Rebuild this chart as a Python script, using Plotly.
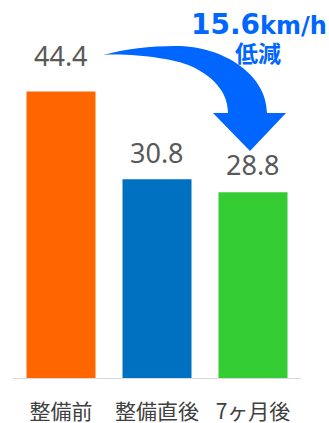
import plotly.graph_objects as go

# ---- data ----
categories = ["整備前", "整備直後", "7ヶ月後"]
speeds = [44.4, 30.8, 28.8]
bar_colors = ["#FF6600", "#0070C0", "#33CC33"]
reduction_value = "15.6"
reduction_unit = "km/h"
reduction_word = "低減"

# ---- layout geometry ----
W, H = 329, 423
ML, MR, MT, MB = 13, 28, 0, 45
PW, PH = W - ML - MR, H - MT - MB
YMAX = 58.6
label_shift = [36, 27, 28]  # px above bar top for value labels

def px(x, y):
    """pixel position -> paper coords"""
    return (x - ML) / PW, (H - MB - y) / PH

fig = go.Figure()
fig.add_trace(go.Bar(
    x=list(range(len(categories))), y=speeds,
    marker=dict(color=bar_colors, line=dict(width=0)),
    hoverinfo="skip",
))

for i, v in enumerate(speeds):
    fig.add_annotation(x=i, y=v, xref="x", yref="y", text=f"{v:.1f}",
                       showarrow=False, yanchor="middle", yshift=label_shift[i],
                       font=dict(family="Noto Sans", size=27, color="#595959"))

# curved arrow (decoration) in pixel space
segs = [
    ("M", [(103, 55)]),
    ("C", [(125, 49), (150, 46), (175, 46)]),
    ("C", [(225.8, 46), (267, 76), (267, 113)]),
    ("L", [(286, 113)]),
    ("L", [(250, 151)]),
    ("L", [(213, 113)]),
    ("L", [(228, 113)]),
    ("C", [(228, 100), (222, 82), (195, 68)]),
    ("C", [(178, 58.5), (130, 53), (103, 55)]),
]
path = ""
for cmd, pts in segs:
    path += cmd + " " + " ".join("%.4f,%.4f" % px(x, y) for x, y in pts) + " "
path += "Z"
fig.add_shape(type="path", path=path, xref="paper", yref="paper",
              fillcolor="#0066FF", line=dict(width=0), layer="above")

bx, by = px(259, 24)
fig.add_annotation(x=bx, y=by, xref="paper", yref="paper", showarrow=False,
                   xanchor="center", yanchor="middle",
                   text=f"<b>{reduction_value}<span style='font-size:24px'>{reduction_unit}</span></b>",
                   font=dict(family="DejaVu Sans", size=28, color="#0066FF"))
tx, ty = px(258, 52.5)
fig.add_annotation(x=tx, y=ty, xref="paper", yref="paper", showarrow=False,
                   xanchor="center", yanchor="middle",
                   text=f"<b>{reduction_word}</b>",
                   font=dict(family="Noto Sans CJK JP", size=23, color="#0066FF"))

fig.update_layout(
    width=W, height=H, margin=dict(l=ML, r=MR, t=MT, b=MB, pad=0, autoexpand=False),
    paper_bgcolor="white", plot_bgcolor="white",
    showlegend=False, bargap=0.281,
    xaxis=dict(range=[-0.5, 2.5], tickvals=list(range(len(categories))),
               ticktext=categories, showline=True, linecolor="#D9D9D9",
               linewidth=1, showgrid=False, zeroline=False, ticks="",
               ticklabelstandoff=15, automargin=False,
               tickfont=dict(family="Noto Sans CJK JP", size=21, color="#404040"),
               fixedrange=True),
    yaxis=dict(range=[0, YMAX], visible=False, showgrid=False,
               zeroline=False, fixedrange=True),
)
fig.write_html("out.html", config={"displayModeBar": False})

with open("out.html", encoding="utf-8") as f:
    html = f.read()
html = html.replace("<head>", "<head><style>html,body{margin:0;padding:0;overflow:hidden;}</style>", 1)
with open("out.html", "w", encoding="utf-8") as f:
    f.write(html)
